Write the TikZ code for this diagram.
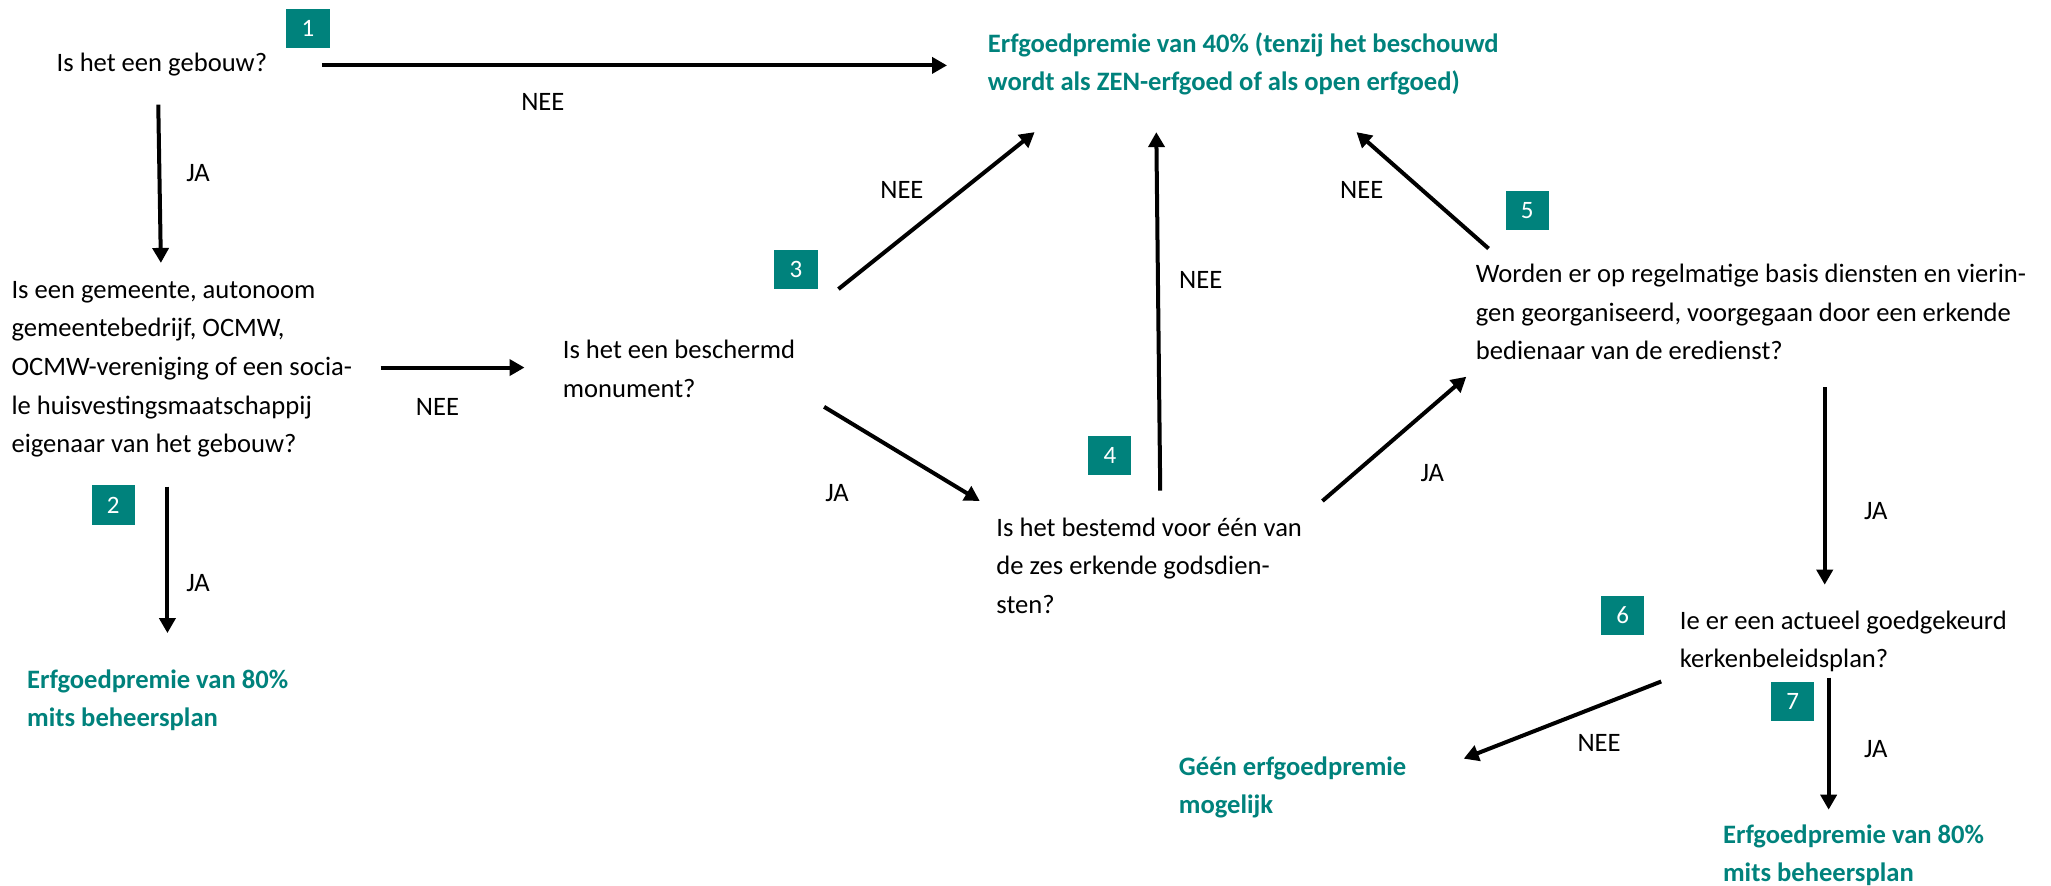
\documentclass[tikz,border=0pt]{standalone}
\usepackage{fontspec}
\setmainfont{Carlito}
\usetikzlibrary{arrows.meta}
\definecolor{teal1}{RGB}{0,130,124}
\newcommand\mlines[1]{\begin{tabular}[t]{@{}l@{}}#1\end{tabular}}
\begin{document}
\begin{tikzpicture}[x=0.654pt,y=-0.654pt,
  txt/.style={anchor=base west,inner sep=0pt,font=\fontsize{13.3}{19.3}\selectfont},
  res/.style={anchor=base west,inner sep=0pt,text=teal1,font=\fontsize{13.3}{19}\selectfont\bfseries},
  numbox/.style={fill=teal1,text=white,minimum width=21.6pt,minimum height=19.6pt,inner sep=0pt,font=\fontsize{12.5}{14}\selectfont},
  lbl/.style={inner sep=0pt,font=\fontsize{13.3}{16}\selectfont},
  arr/.style={line width=2pt,-{Triangle[length=7.5pt,width=8pt]}}]
\useasboundingbox (0,0) rectangle (1568,677);

% questions
\node[txt] (q1) at (43,54.5) {Is het een gebouw?};
\node[txt] (q2) at (8.5,228) {\mlines{Is een gemeente, autonoom\\gemeentebedrijf, OCMW,\\OCMW-vereniging of een socia-\\le huisvestingsmaatschappij\\eigenaar van het gebouw?}};
\node[txt] (q3) at (430,274) {\mlines{Is het een beschermd\\monument?}};
\node[txt] (q4) at (761.5,410) {\mlines{Is het bestemd voor één van\\de zes erkende godsdien-\\sten?}};
\node[txt] (q5) at (1128,216) {\mlines{Worden er op regelmatige basis diensten en vierin-\\gen georganiseerd, voorgegaan door een erkende\\bedienaar van de eredienst?}};
\node[txt] (q6) at (1284,481) {\mlines{Ie er een actueel goedgekeurd\\kerkenbeleidsplan?}};

% results
\node[res] (r40) at (755,40) {\mlines{Erfgoedpremie van 40\% (tenzij het beschouwd\\wordt als ZEN-erfgoed of als open erfgoed)}};
\node[res] (r80a) at (20.5,526) {\mlines{Erfgoedpremie van 80\%\\mits beheersplan}};
\node[res] (rgeen) at (901,593) {\mlines{Géén erfgoedpremie\\mogelijk}};
\node[res] (r80b) at (1317,645) {\mlines{Erfgoedpremie van 80\%\\mits beheersplan}};

% number boxes
\node[numbox] (b1) at (235.5,22) {1};
\node[numbox] (b2) at (86.5,386) {2};
\node[numbox] (b3) at (608.5,206) {3};
\node[numbox] (b4) at (848.5,348) {4};
\node[numbox] (b5) at (1167.5,161) {5};
\node[numbox] (b6) at (1240.5,470.5) {6};
\node[numbox] (b7) at (1370.5,536) {7};

% connector end points
\coordinate (a1s) at (246,50);   \coordinate (a1e) at (724,50);
\coordinate (a2s) at (121,80);   \coordinate (a2e) at (123,201);
\coordinate (a3s) at (291,281);  \coordinate (a3e) at (401,281);
\coordinate (a4s) at (128,372);  \coordinate (a4e) at (128,484);
\coordinate (a5s) at (641,221);  \coordinate (a5e) at (791,101);
\coordinate (a6s) at (630,311);  \coordinate (a6e) at (749,383);
\coordinate (a7s) at (887,375);  \coordinate (a7e) at (884,101);
\coordinate (a8s) at (1011,383); \coordinate (a8e) at (1121,288);
\coordinate (a9s) at (1138,190); \coordinate (a9e) at (1037,101);
\coordinate (a10s) at (1395,296); \coordinate (a10e) at (1395,447);
\coordinate (a11s) at (1270,521); \coordinate (a11e) at (1119,580);
\coordinate (a12s) at (1398,518); \coordinate (a12e) at (1398,619);

\draw[arr] (a1s) -- (a1e);
\draw[arr] (a2s) -- (a2e);
\draw[arr] (a3s) -- (a3e);
\draw[arr] (a4s) -- (a4e);
\draw[arr] (a5s) -- (a5e);
\draw[arr] (a6s) -- (a6e);
\draw[arr] (a7s) -- (a7e);
\draw[arr] (a8s) -- (a8e);
\draw[arr] (a9s) -- (a9e);
\draw[arr] (a10s) -- (a10e);
\draw[arr] (a11s) -- (a11e);
\draw[arr] (a12s) -- (a12e);

% labels
\node[lbl] (l1) at (415,78) {NEE};
\node[lbl] (l2) at (151.5,132) {JA};
\node[lbl] (l3) at (334.5,311) {NEE};
\node[lbl] (l4) at (151.5,446) {JA};
\node[lbl] (l5) at (689.5,145) {NEE};
\node[lbl] (l6) at (640,377) {JA};
\node[lbl] (l7) at (918,214) {NEE};
\node[lbl] (l8) at (1095,362) {JA};
\node[lbl] (l9) at (1041,145) {NEE};
\node[lbl] (l10) at (1434,391) {JA};
\node[lbl] (l11) at (1222.5,568) {NEE};
\node[lbl] (l12) at (1434,573) {JA};
\end{tikzpicture}
\end{document}
